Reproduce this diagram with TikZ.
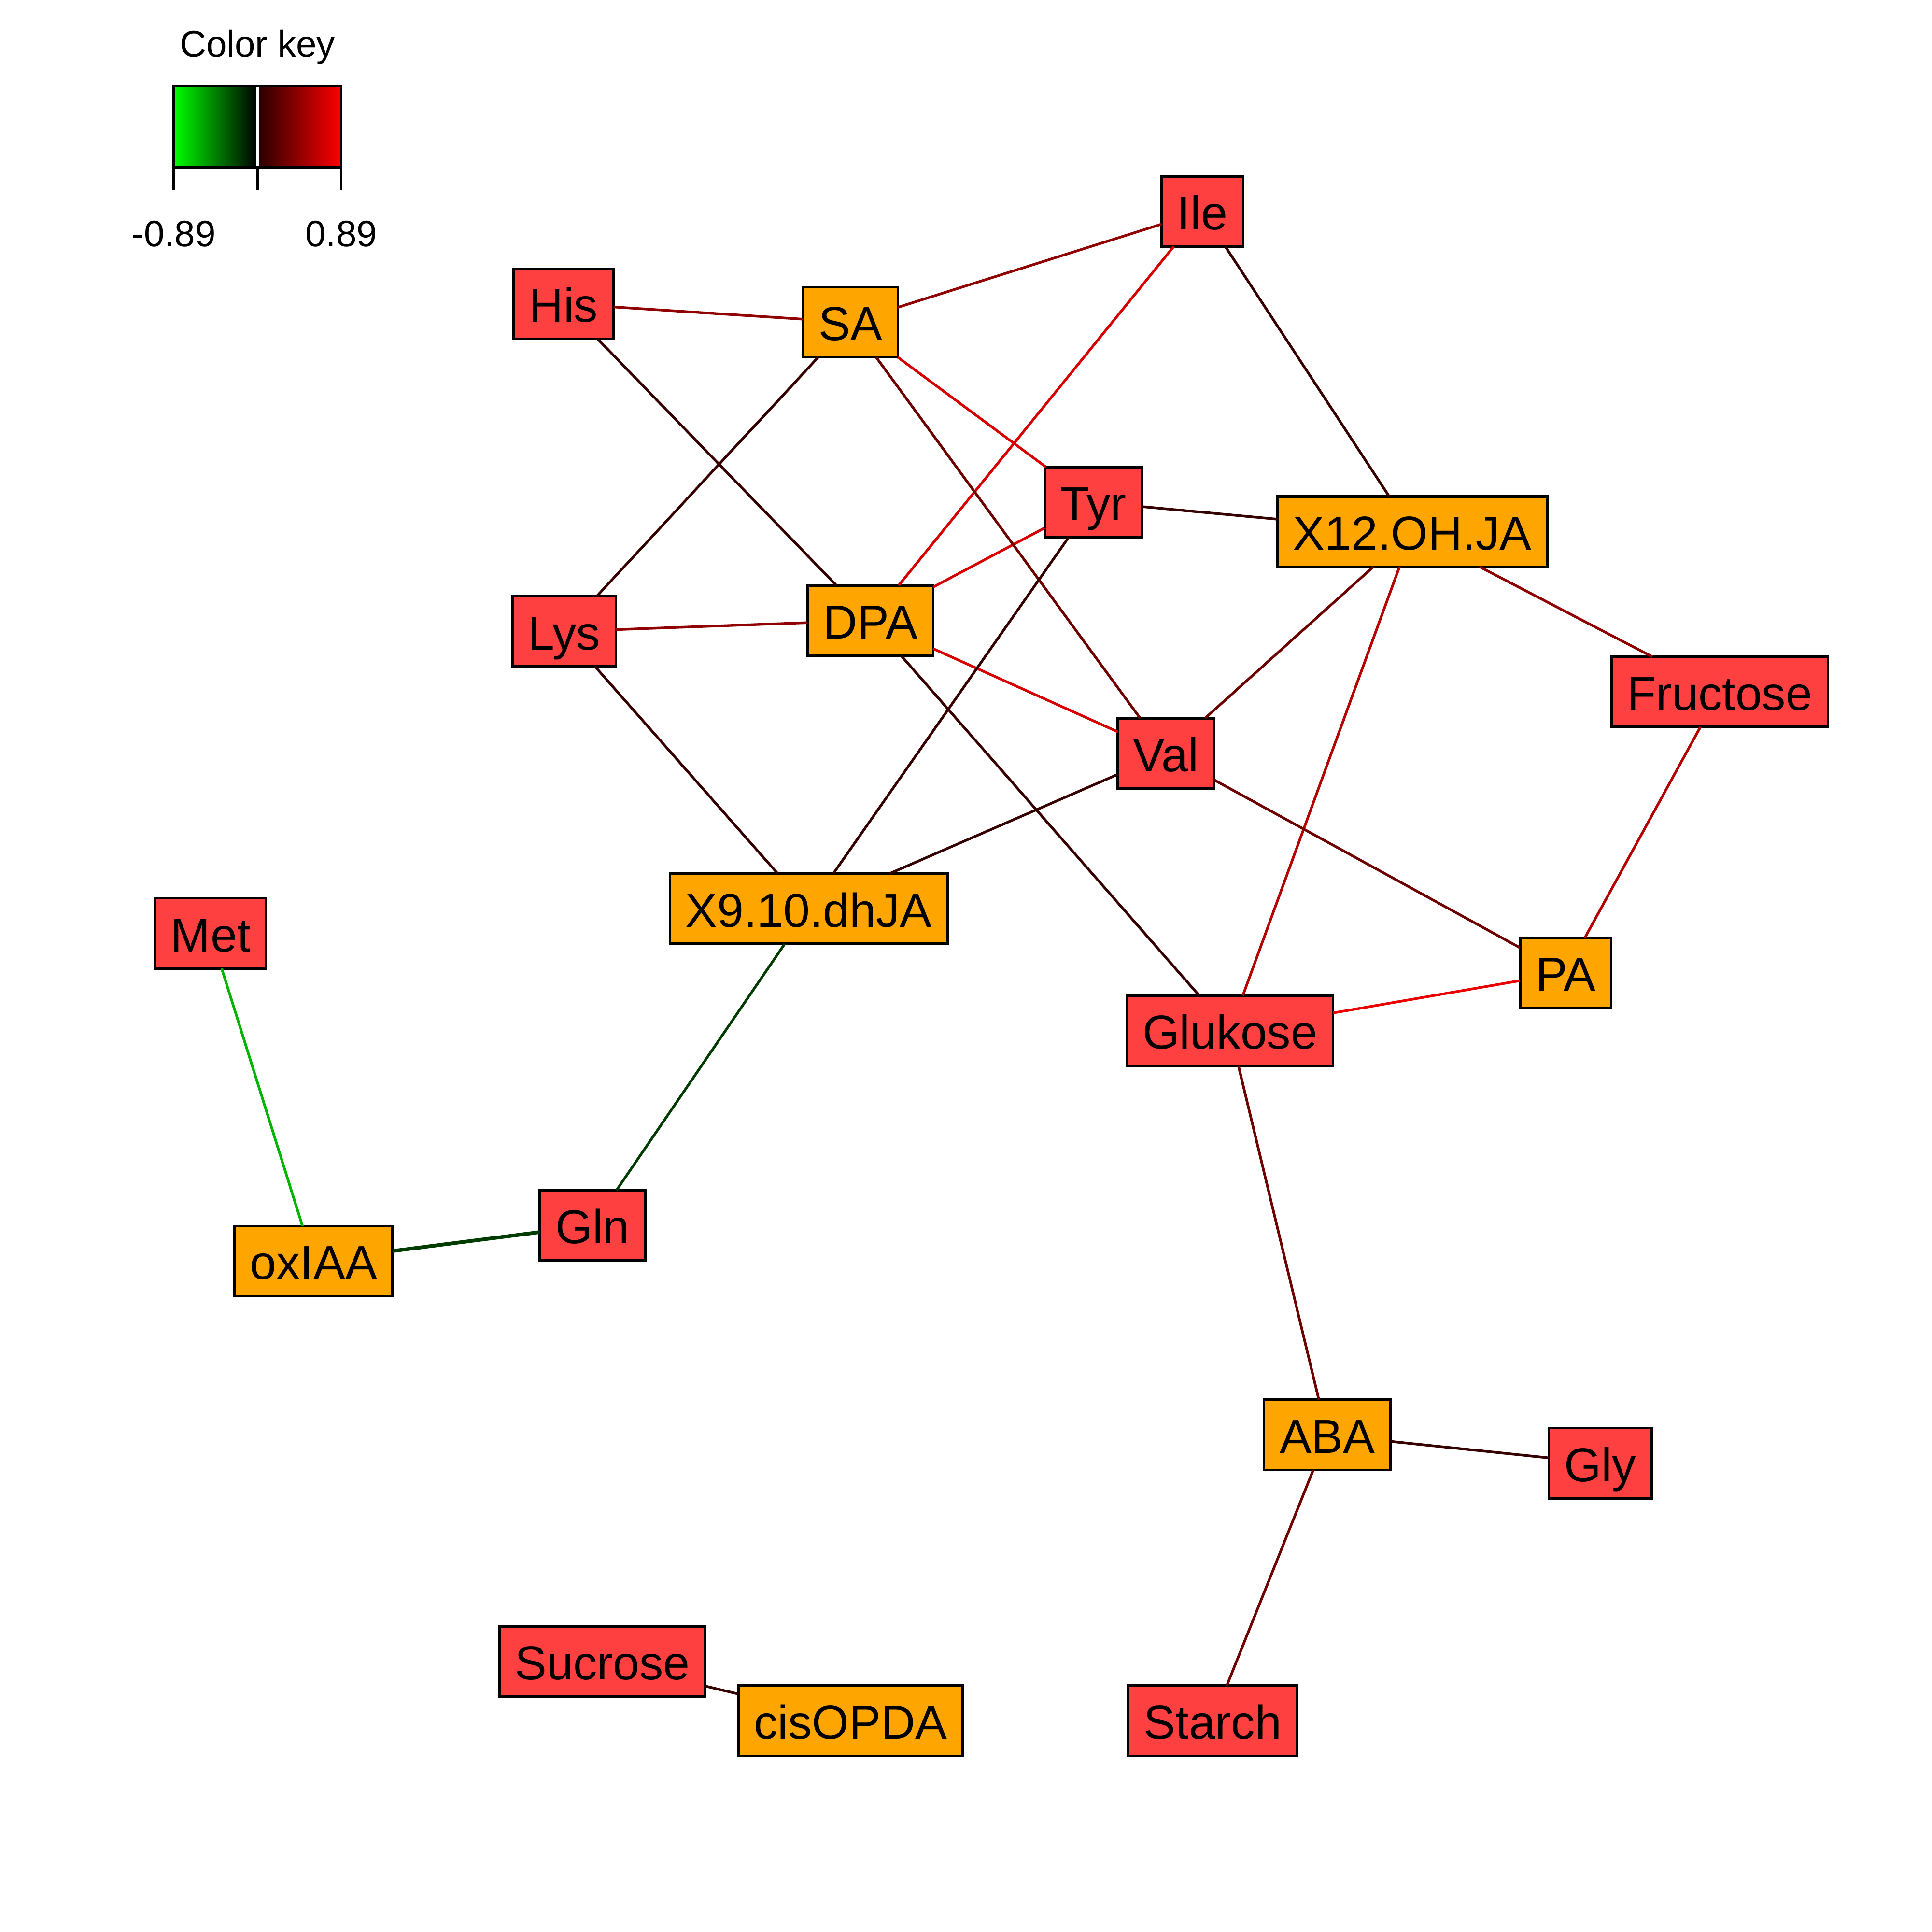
\documentclass[tikz,border=0pt]{standalone}
\usepackage{fontspec}
\setmainfont{Liberation Sans}
\definecolor{metfill}{RGB}{255,64,64}
\definecolor{hormfill}{RGB}{255,165,0}
\definecolor{corbright}{RGB}{235,0,0}
\definecolor{corred}{RGB}{215,0,0}
\definecolor{cormid}{RGB}{180,0,0}
\definecolor{cordark}{RGB}{145,0,0}
\definecolor{cordeep}{RGB}{110,0,0}
\definecolor{corblack}{RGB}{55,0,0}
\definecolor{corgreen}{RGB}{0,180,0}
\definecolor{cordkgreen}{RGB}{0,60,0}
\definecolor{keygreen}{RGB}{0,255,0}
\definecolor{keyred}{RGB}{255,0,0}
\tikzset{
  box/.style={draw=black,line width=0.6pt,font=\fontsize{11}{13}\selectfont,
    inner xsep=3.6pt,inner ysep=3.9pt,text height=8.4pt,text depth=0pt,outer sep=0pt},
  metab/.style={box,fill=metfill},
  horm/.style={box,fill=hormfill},
  edge/.style={line width=0.6pt},
  keylabel/.style={font=\fontsize{8.5}{10}\selectfont,anchor=base,inner sep=0pt}
}
\begin{document}
\begin{tikzpicture}[x=0.01cm,y=-0.01cm]
  \useasboundingbox (0,0) rectangle (1568,1568);
  % color key
  \shade[left color=keygreen,right color=black] (141,70) rectangle (209,136);
  \shade[left color=black!85!keyred,right color=keyred] (209,70) rectangle (277,136);
  \draw[white,line width=0.6pt] (209,70) -- (209,136);
  \draw[line width=0.6pt] (141,136) -- (141,70) -- (277,70) -- (277,136) -- cycle;
  \foreach \x in {141,209,277}
    \draw[line width=0.6pt] (\x,136) -- (\x,154);
  \node[keylabel] (keytitle) at (209,46) {Color key};
  \node[keylabel] (keymin) at (141,200) {-0.89};
  \node[keylabel] (keymax) at (277,200) {0.89};
  % nodes
  \node[metab] (Ile) at (976,171.5) {Ile};
  \node[metab] (His) at (457.5,246.5) {His};
  \node[horm] (SA) at (690.5,261.5) {SA};
  \node[metab] (Tyr) at (887.5,407.5) {Tyr};
  \node[horm] (X12) at (1146.5,431.5) {X12.OH.JA};
  \node[metab] (Lys) at (458,512.5) {Lys};
  \node[horm] (DPA) at (706.5,503.5) {DPA};
  \node[metab] (Fructose) at (1396,561.5) {Fructose};
  \node[metab] (Val) at (946.5,611.5) {Val};
  \node[horm] (X9) at (656.5,737.5) {X9.10.dhJA};
  \node[metab] (Met) at (171,757.5) {Met};
  \node[horm] (PA) at (1271,789.5) {PA};
  \node[metab] (Glukose) at (998.5,836.5) {Glukose};
  \node[metab] (Gln) at (481,994.5) {Gln};
  \node[horm] (oxIAA) at (254.5,1023.5) {oxIAA};
  \node[horm] (ABA) at (1077.5,1164.5) {ABA};
  \node[metab] (Gly) at (1299,1187.5) {Gly};
  \node[metab] (Sucrose) at (489,1348.5) {Sucrose};
  \node[horm] (cisOPDA) at (690.5,1396.5) {cisOPDA};
  \node[metab] (Starch) at (984.5,1396.5) {Starch};
  % edges
  \foreach \a/\b in {Glukose/PA}
    \draw[edge,corbright] (\a) -- (\b);
  \foreach \a/\b in {Ile/DPA,SA/Tyr,Tyr/DPA,DPA/Val}
    \draw[edge,corred] (\a) -- (\b);
  \foreach \a/\b in {X12/Glukose,Fructose/PA}
    \draw[edge,cormid] (\a) -- (\b);
  \foreach \a/\b in {His/SA,SA/Ile,Lys/DPA,X12/Fructose}
    \draw[edge,cordark] (\a) -- (\b);
  \foreach \a/\b in {SA/Val,X12/Val,Val/PA,Glukose/ABA,ABA/Starch}
    \draw[edge,cordeep] (\a) -- (\b);
  \foreach \a/\b in {Ile/X12,SA/Lys,His/DPA,Tyr/X12,Tyr/X9,Lys/X9,DPA/Glukose,Val/X9,ABA/Gly,Sucrose/cisOPDA}
    \draw[edge,corblack] (\a) -- (\b);
  \draw[edge,corgreen] (Met) -- (oxIAA);
  \draw[edge,cordkgreen] (X9) -- (Gln);
  \draw[edge,cordkgreen,line width=0.85pt] (Gln) -- (oxIAA);
\end{tikzpicture}
\end{document}
